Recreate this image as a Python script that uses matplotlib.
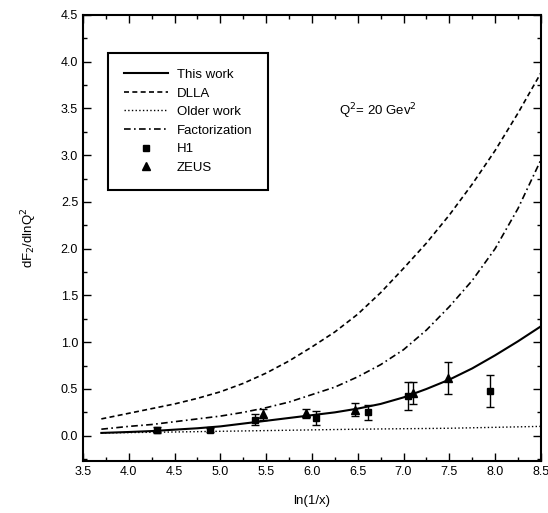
import matplotlib
matplotlib.use("Agg")
import matplotlib.pyplot as plt
from matplotlib.ticker import MultipleLocator

plt.rcParams["font.family"] = ["Liberation Sans", "DejaVu Sans"]

# theory curves
x_curve = [3.7, 4.0, 4.25, 4.5, 4.75, 5.0, 5.25, 5.5, 5.75, 6.0, 6.25,
           6.5, 6.75, 7.0, 7.25, 7.5, 7.75, 8.0, 8.25, 8.5]
this_work = [0.03, 0.04, 0.05, 0.065, 0.08, 0.10, 0.13, 0.16, 0.19, 0.22, 0.25,
             0.29, 0.34, 0.41, 0.50, 0.60, 0.72, 0.86, 1.01, 1.17]
dlla = [0.18, 0.24, 0.29, 0.34, 0.40, 0.47, 0.56, 0.67, 0.80, 0.95, 1.11,
        1.30, 1.53, 1.79, 2.06, 2.36, 2.69, 3.05, 3.45, 3.88]
factorization = [0.07, 0.10, 0.12, 0.15, 0.18, 0.21, 0.25, 0.30, 0.36, 0.44, 0.52,
                 0.63, 0.76, 0.92, 1.13, 1.38, 1.66, 2.00, 2.43, 2.95]
x_older = [3.7, 4.5, 5.5, 6.5, 7.5, 8.5]
older_work = [0.03, 0.04, 0.055, 0.07, 0.08, 0.10]

# data points
h1_x = [4.31, 4.89, 5.38, 6.04, 6.61, 7.05, 7.94]
h1_y = [0.06, 0.06, 0.17, 0.19, 0.25, 0.42, 0.48]
h1_err = [0.03, 0.02, 0.06, 0.07, 0.08, 0.15, 0.17]
zeus_x = [5.46, 5.93, 6.47, 7.10, 7.49]
zeus_y = [0.23, 0.24, 0.28, 0.46, 0.62]
zeus_err = [0.06, 0.05, 0.07, 0.12, 0.17]

fig = plt.figure(figsize=(5.48, 5.13), dpi=100)
ax = fig.add_axes([0.1515, 0.1014, 0.8355, 0.8694])

ax.plot(x_curve, this_work, "-", color="black", linewidth=1.5, label="This work")
ax.plot(x_curve, dlla, "--", color="black", linewidth=1.2, dashes=(3, 2), label="DLLA")
ax.plot(x_older, older_work, ":", color="black", linewidth=1.0, label="Older work")
ax.plot(x_curve, factorization, "-.", color="black", linewidth=1.2,
        dashes=(4, 2, 1, 2), label="Factorization")
ax.errorbar(h1_x, h1_y, yerr=h1_err, fmt="none", ecolor="black", capsize=3, elinewidth=1.0)
ax.errorbar(zeus_x, zeus_y, yerr=zeus_err, fmt="none", ecolor="black", capsize=3, elinewidth=1.0)
ax.plot(h1_x, h1_y, "s", color="black", markersize=5, linestyle="none", label="H1")
ax.plot(zeus_x, zeus_y, "^", color="black", markersize=6, linestyle="none", label="ZEUS")

ax.set_xlim(3.5, 8.5)
ax.set_ylim(-0.27, 4.5)
ax.xaxis.set_major_locator(MultipleLocator(0.5))
ax.xaxis.set_minor_locator(MultipleLocator(0.25))
ax.yaxis.set_major_locator(MultipleLocator(0.5))
ax.yaxis.set_minor_locator(MultipleLocator(0.25))
ax.tick_params(which="both", direction="in", top=True, right=True, labelsize=9)
ax.tick_params(which="major", length=6, width=1.0)
ax.tick_params(which="minor", length=3, width=1.0)
for spine in ax.spines.values():
    spine.set_linewidth(1.5)

ax.set_xlabel("ln(1/x)", fontsize=9.5, labelpad=12)
ax.set_ylabel("dF$_2$/dlnQ$^2$", fontsize=9.5, labelpad=16)
ax.text(6.29, 3.47, "Q$^2$= 20 Gev$^2$", fontsize=9.5, va="center", ha="left")

leg = ax.legend(loc="upper left", bbox_to_anchor=(0.055, 0.915), borderaxespad=0,
                fontsize=9.5, fancybox=False, edgecolor="black", framealpha=1,
                handlelength=3.3, labelspacing=0.48, borderpad=1.2, handletextpad=0.7)
leg.get_frame().set_linewidth(1.5)

fig.savefig("out.png", dpi=100)
